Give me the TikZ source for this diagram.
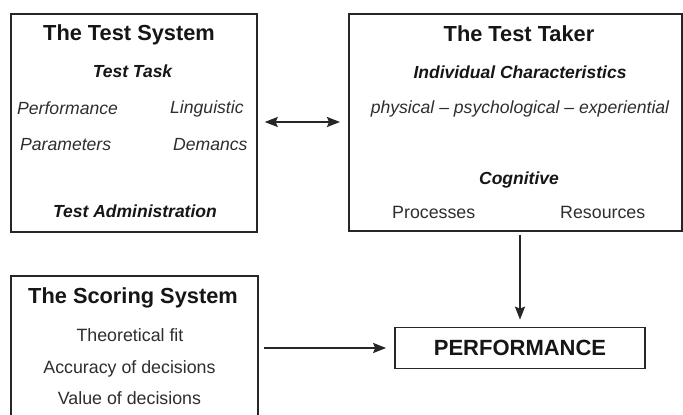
\documentclass[tikz,border=0pt]{standalone}
\usepackage{fontspec}
\setmainfont{Liberation Sans}
\usetikzlibrary{arrows.meta}
\definecolor{ink}{HTML}{161616}
\definecolor{soft}{HTML}{2E2E2E}
\definecolor{frame}{HTML}{262626}
\begin{document}
\begin{tikzpicture}[x=1pt,y=-1pt,
  panel/.style={draw=frame,line width=1.7pt,inner sep=0pt,anchor=north west},
  head/.style={inner sep=0pt,anchor=base,text=ink,font=\fontsize{21.8}{24}\selectfont\bfseries},
  subhead/.style={inner sep=0pt,anchor=base,text=ink,font=\fontsize{17.5}{20}\selectfont\bfseries\itshape},
  itemi/.style={inner sep=0pt,anchor=base west,text=soft,font=\fontsize{17.6}{20}\selectfont\itshape},
  itemc/.style={inner sep=0pt,anchor=base,text=soft,font=\fontsize{17.6}{20}\selectfont\itshape},
  itemu/.style={inner sep=0pt,anchor=base,text=soft,font=\fontsize{17.8}{20}\selectfont},
  itemuw/.style={inner sep=0pt,anchor=base west,text=soft,font=\fontsize{17.8}{20}\selectfont},
  link/.style={draw=frame,line width=1.8pt,-{Stealth[length=13pt,width=10pt,inset=2pt]}},
  twolink/.style={draw=frame,line width=1.8pt,{Stealth[length=13pt,width=10pt,inset=2pt]}-{Stealth[length=13pt,width=10pt,inset=2pt]}}]
\useasboundingbox (0,0) rectangle (683,415);
\fill[white] (0,0) rectangle (683,415);

% The test system
\node[panel,minimum width=246pt,minimum height=218pt] (sys) at (10,13) {};
\node[head] (systitle) at (129,40) {The Test System};
\node[subhead] (task) at (132.5,77.3) {Test Task};
\node[itemi] (perf1) at (17,114.3) {Performance};
\node[itemi] (param) at (20,150.5) {Parameters};
\node[itemi] (ling) at (170,113.5) {Linguistic};
\node[itemi] (dem) at (173,150) {Demancs};
\node[subhead] (admin) at (135,217) {Test Administration};

% The test taker
\node[panel,minimum width=333pt,minimum height=217pt] (taker) at (348,13) {};
\node[head] (takertitle) at (519,41) {The Test Taker};
\node[subhead] (indiv) at (520,78.5) {Individual Characteristics};
\node[itemc] (traits) at (520,113.5) {physical – psychological – experiential};
\node[subhead] (cog) at (519,184.5) {Cognitive};
\node[itemuw] (proc) at (392,218) {Processes};
\node[itemuw] (res) at (560,218) {Resources};

% The scoring system
\node[panel,minimum width=247pt,minimum height=160pt] (score) at (10,275) {};
\node[head] (scoretitle) at (133,303) {The Scoring System};
\node[itemu] (fit) at (130,341.7) {Theoretical fit};
\node[itemu] (acc) at (129.5,373.3) {Accuracy of decisions};
\node[itemu] (val) at (129.5,404) {Value of decisions};

% Performance
\node[draw=frame,line width=1.7pt,minimum width=250pt,minimum height=41pt,inner sep=0pt,
      font=\fontsize{22}{24}\selectfont\bfseries,text=ink] (perf) at (520,348) {\raisebox{-0.5pt}{PERFORMANCE}};

% Connectors
\draw[twolink,shorten <=7pt,shorten >=8pt] (sys.east |- 0,122) -- (taker.west |- 0,122);
\draw[link,shorten <=3pt,shorten >=7pt] (perf.north |- taker.south) -- (perf.north);
\draw[link,shorten <=5pt,shorten >=8pt] (score.east |- perf.west) -- (perf.west);
\end{tikzpicture}
\end{document}
